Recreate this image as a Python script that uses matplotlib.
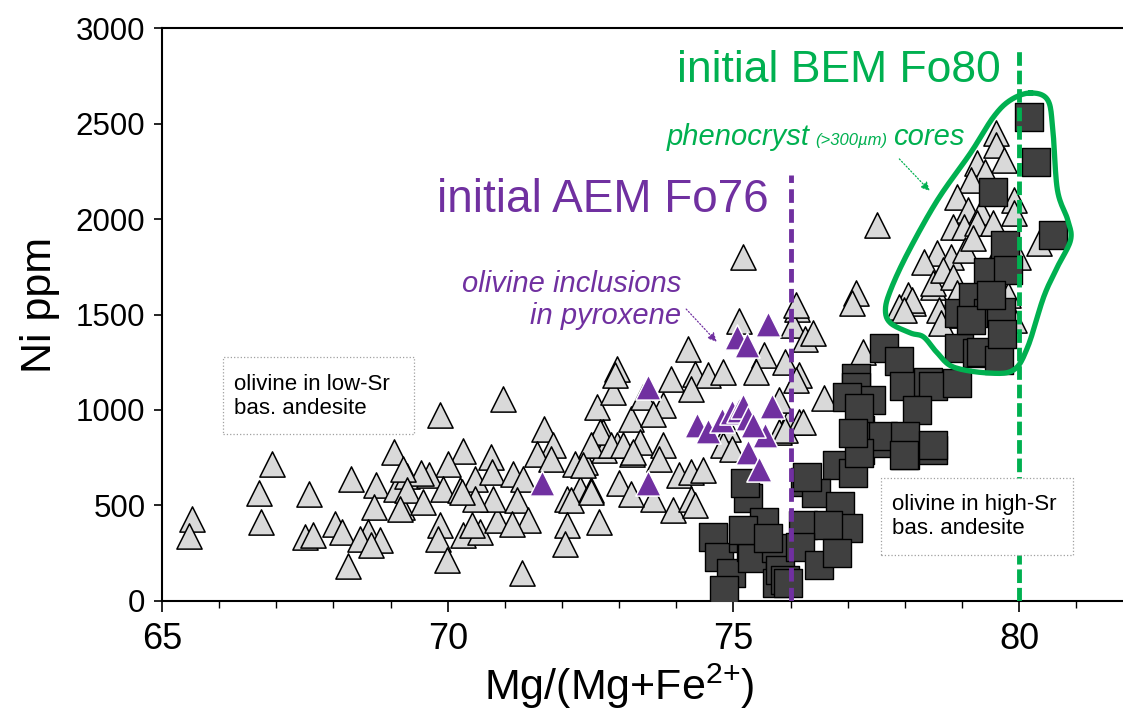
import matplotlib
matplotlib.use("Agg")
import matplotlib.pyplot as plt
import matplotlib.patches as mpatches
import numpy as np

plt.rcParams['font.family'] = ['Liberation Sans', 'DejaVu Sans']
plt.rcParams['mathtext.fontset'] = 'custom'
plt.rcParams['mathtext.rm'] = 'Liberation Sans'
plt.rcParams['mathtext.it'] = 'Liberation Sans:italic'

# ---- data ----
low_sr_x = [65.53, 65.48, 66.93, 66.70, 66.73, 67.57, 67.50, 67.65, 68.30, 68.26, 68.03, 68.15,
            68.75, 69.06, 68.71, 68.60, 68.47, 68.82, 68.66, 69.10, 69.20, 69.29,
            69.87, 70.97, 71.30, 70.27, 70.00, 69.68, 69.54, 69.22, 69.29, 69.17, 69.57, 69.92,
            70.22, 70.48, 70.76, 70.78, 71.15, 71.32, 69.87, 69.83, 69.99, 70.27, 70.57, 70.43,
            70.87, 70.80, 71.22, 71.41, 71.13, 70.48, 70.25,
            71.69, 71.85, 71.57, 71.80, 72.23, 72.40, 72.32, 72.51, 72.09, 72.15, 72.64, 72.09,
            72.06, 72.62, 72.71, 72.55, 72.73, 73.20, 73.37, 73.23, 72.97, 72.90,
            75.16, 75.10, 75.53, 75.40, 74.20, 72.97, 72.93, 74.33, 74.56, 74.82, 73.91, 74.25,
            73.42, 73.76, 73.60, 72.67, 72.50, 72.85, 73.06, 73.25, 73.76, 73.69, 74.04, 74.25,
            74.47, 72.36, 74.90, 74.82, 74.98, 75.95, 76.14, 76.12, 76.05, 76.26, 76.14, 75.79,
            72.50, 73.60, 73.95, 74.25, 74.33, 73.00, 73.20, 75.80, 75.90,
            77.14, 77.08, 76.10, 76.40, 77.26, 76.09, 76.58, 76.21, 75.91, 78.05, 78.15, 77.89,
            78.49, 77.52,
            79.59, 79.59, 79.73, 79.27, 79.41, 79.15, 78.92, 79.10, 79.33, 79.91, 79.91, 78.84,
            79.03, 79.27, 79.55, 78.57, 78.80, 79.06, 78.33, 78.49, 78.66, 78.13, 77.98, 78.59,
            78.63, 80.34, 79.91, 79.98, 78.85, 78.92, 79.20, 79.50, 79.70, 79.30, 79.00, 79.80]
low_sr_y = [429, 340, 717, 565, 414, 560, 335, 345, 639, 183, 403, 361,
            607, 780, 492, 361, 325, 319, 293, 586, 492, 657,
            974, 1058, 147, 785, 717, 660, 670, 691, 581, 482, 518, 586,
            581, 639, 754, 675, 665, 639, 398, 325, 215, 345, 361, 398,
            424, 534, 529, 424, 403, 534, 571,
            900, 817, 770, 743, 717, 728, 586, 581, 534, 529, 414, 398,
            298, 1016, 885, 817, 791, 953, 832, 770, 817, 1094,
            1801, 1466, 1288, 1199, 1319, 1215, 1183, 1188, 1183, 1199, 1162, 1110,
            1068, 1026, 979, 885, 817, 817, 817, 780, 817, 743, 660, 675,
            686, 712, 900, 817, 796, 937, 1183, 1529, 1445, 1372, 937, 885,
            571, 534, 476, 534, 503, 620, 560, 1050, 1250,
            1612, 1560, 1550, 1403, 1304, 1157, 1063, 937, 895, 1602, 1560, 1539,
            1644, 1969,
            2450, 2387, 2309, 2293, 2246, 2204, 2115, 2047, 2037, 2099, 2031, 1958,
            1958, 1979, 1979, 1822, 1801, 1838, 1775, 1665, 1733, 1576, 1524, 1524,
            1455, 1874, 1471, 1801, 1696, 1612, 1900, 1750, 1650, 1600, 1500, 1600]

incl_x = [71.65, 73.50, 73.50, 74.37, 74.55, 74.80, 74.98, 75.10, 75.17, 75.26, 75.68, 75.56,
          75.26, 75.44, 75.07, 75.23, 75.61, 75.35]
incl_y = [620, 1120, 620, 920, 890, 950, 990, 1000, 1020, 960, 1020, 870,
          780, 690, 1380, 1340, 1450, 920]

high_sr_x = [74.65, 74.74, 74.95, 74.83, 75.16, 75.30, 75.26, 75.53, 75.33, 75.74, 75.77, 75.82,
             76.26, 76.21, 75.17, 75.20, 75.90, 75.60,
             76.82, 77.10, 76.45, 76.86, 77.01, 76.65, 76.17, 76.49, 76.82, 75.95, 77.22, 77.63,
             78.01, 78.49,
             77.64, 77.89, 77.14, 77.15, 77.40, 76.99, 77.98, 78.40, 78.49, 78.92, 78.22, 77.22,
             77.61, 78.01, 78.49, 77.98, 77.19, 76.28, 77.20, 77.10,
             78.94, 78.94, 79.27, 80.17, 80.29, 79.55, 80.60, 79.76, 79.45, 79.80, 79.19, 79.45,
             79.68, 79.33, 79.64, 79.15, 79.70, 79.50]
high_sr_y = [335, 230, 147, 58, 330, 283, 539, 414, 225, 277, 94, 162,
             623, 398, 372, 620, 110, 330,
             712, 670, 565, 497, 382, 398, 283, 188, 251, 94, 791, 827,
             764, 791,
             1325, 1257, 1168, 1120, 1052, 1068, 1126, 1147, 1126, 1141, 1000, 895,
             864, 864, 817, 764, 775, 649, 1010, 880,
             1508, 1325, 1298, 2534, 2298, 2141, 1916, 1864, 1723, 1733, 1592, 1508,
             1513, 1304, 1262, 1471, 1400, 1600]

# outline of phenocryst-core field (data coords)
core_x = [80.20, 80.50, 80.59, 80.67, 80.85, 80.90, 80.67, 80.43, 80.15, 79.90, 79.45, 78.85,
          78.57, 78.33, 78.10, 77.75, 77.66, 77.75, 78.05, 78.57, 79.15, 79.55, 79.85]
core_y = [2660, 2623, 2466, 2152, 1995, 1890, 1749, 1592, 1330, 1209, 1194, 1225,
          1298, 1382, 1403, 1455, 1524, 1628, 1822, 2099, 2346, 2534, 2623]

aem_fo = 76
bem_fo = 80
x_ticks = [65, 70, 75, 80]
y_ticks = [0, 500, 1000, 1500, 2000, 2500, 3000]

GREEN = '#00B050'
PURPLE = '#7030A0'

fig = plt.figure(figsize=(11.23, 7.13), dpi=100)
ax = fig.add_axes([0.1443, 0.1571, 0.8548, 0.8036])
ax.set_xlim(65, 81.8)
ax.set_ylim(0, 3000)

ax.scatter(low_sr_x, low_sr_y, marker='^', s=330, facecolor='#D9D9D9', edgecolor='black',
           linewidth=1.1, zorder=3)
ax.scatter(high_sr_x, high_sr_y, marker='s', s=390, facecolor='#404040', edgecolor='black',
           linewidth=1.0, zorder=4)
ax.scatter(incl_x, incl_y, marker='^', s=330, facecolor=PURPLE, edgecolor='white',
           linewidth=1.1, zorder=5)

ax.plot([aem_fo, aem_fo], [0, 2230], color=PURPLE, lw=3.5, dashes=(2.8, 1.3), zorder=6)
ax.plot([bem_fo, bem_fo], [0, 2890], color=GREEN, lw=3.5, dashes=(2.8, 1.0), zorder=6)

# smooth closed outline (Catmull-Rom through the outline vertices)
px = np.array(core_x); py = np.array(core_y)
n = len(px)
sx, sy = [], []
for i in range(n):
    p0 = np.array([px[i - 1], py[i - 1]]); p1 = np.array([px[i], py[i]])
    p2 = np.array([px[(i + 1) % n], py[(i + 1) % n]]); p3 = np.array([px[(i + 2) % n], py[(i + 2) % n]])
    for t in np.linspace(0, 1, 12, endpoint=False):
        pt = 0.5 * ((2 * p1) + (-p0 + p2) * t + (2 * p0 - 5 * p1 + 4 * p2 - p3) * t ** 2
                    + (-p0 + 3 * p1 - 3 * p2 + p3) * t ** 3)
        sx.append(pt[0]); sy.append(pt[1])
sx.append(sx[0]); sy.append(sy[0])
ax.plot(sx, sy, color=GREEN, lw=3.8, solid_joinstyle='round', zorder=7)

# axes styling
ax.spines['right'].set_visible(False)
for side in ['left', 'bottom', 'top']:
    ax.spines[side].set_linewidth(1.5)
ax.set_xticks(x_ticks)
ax.set_xticks(np.arange(65, 82, 1), minor=True)
ax.set_yticks(y_ticks)
ax.tick_params(axis='x', which='major', direction='out', length=8, width=1.2, labelsize=26, pad=7)
ax.tick_params(axis='x', which='minor', direction='out', length=5, width=1.0)
ax.tick_params(axis='y', which='major', direction='out', length=6, width=1.2, labelsize=22.5, pad=6)
ax.set_xlabel(r'Mg/(Mg+Fe$^{\text{2+}}$)', fontsize=31)
ax.xaxis.set_label_coords(0.476, -0.106)
ax.set_ylabel('Ni ppm', fontsize=31)
ax.yaxis.set_label_coords(-0.106, 0.517)

# annotations
ax.text(75.61, 2100, 'initial AEM Fo76', color=PURPLE, fontsize=33, ha='right', va='center')
ax.text(79.68, 2780, 'initial BEM Fo80', color=GREEN, fontsize=32, ha='right', va='center')

t1 = ax.text(73.84, 2385, 'phenocryst', color=GREEN, fontsize=21, style='italic',
             ha='left', va='baseline')
fig.canvas.draw()
r = fig.canvas.get_renderer()
bb = t1.get_window_extent(r)
t2 = ax.annotate('(>300µm)', xy=(73.84, 2385), xycoords='data',
                 xytext=(bb.width * 72 / 100 + 4, 0), textcoords='offset points',
                 color=GREEN, fontsize=12, style='italic', ha='left', va='baseline')
fig.canvas.draw()
bb2 = t2.get_window_extent(r)
ax.annotate('cores', xy=(73.84, 2385), xycoords='data',
            xytext=((bb2.x1 - bb.x0) * 72 / 100 + 4, 0), textcoords='offset points',
            color=GREEN, fontsize=21, style='italic', ha='left', va='baseline')

ax.text(74.09, 1576, 'olivine inclusions\nin pyroxene', color=PURPLE, fontsize=21,
        style='italic', ha='right', va='center', linespacing=1.15)

ax.annotate('', xy=(78.47, 2136), xytext=(77.87, 2325),
            arrowprops=dict(arrowstyle='-|>', color=GREEN, lw=0.9, ls=':', mutation_scale=13))
ax.annotate('', xy=(74.74, 1346), xytext=(74.14, 1539),
            arrowprops=dict(arrowstyle='-|>', color=PURPLE, lw=0.9, ls=':', mutation_scale=13))

# label boxes
for (x0, x1, y0, y1, tx, ty, label) in [
        (66.07, 69.41, 874, 1277, 66.26, 1070, 'olivine in low-Sr\nbas. andesite'),
        (77.59, 80.95, 241, 644, 77.78, 442, 'olivine in high-Sr\nbas. andesite')]:
    ax.add_patch(mpatches.Rectangle((x0, y0), x1 - x0, y1 - y0, facecolor='white',
                                    edgecolor='#A0A0A0', lw=0.9, ls=':', zorder=8))
    ax.text(tx, ty, label, fontsize=16, ha='left', va='center', linespacing=1.15, zorder=9)

fig.savefig('out.png', dpi=100)
